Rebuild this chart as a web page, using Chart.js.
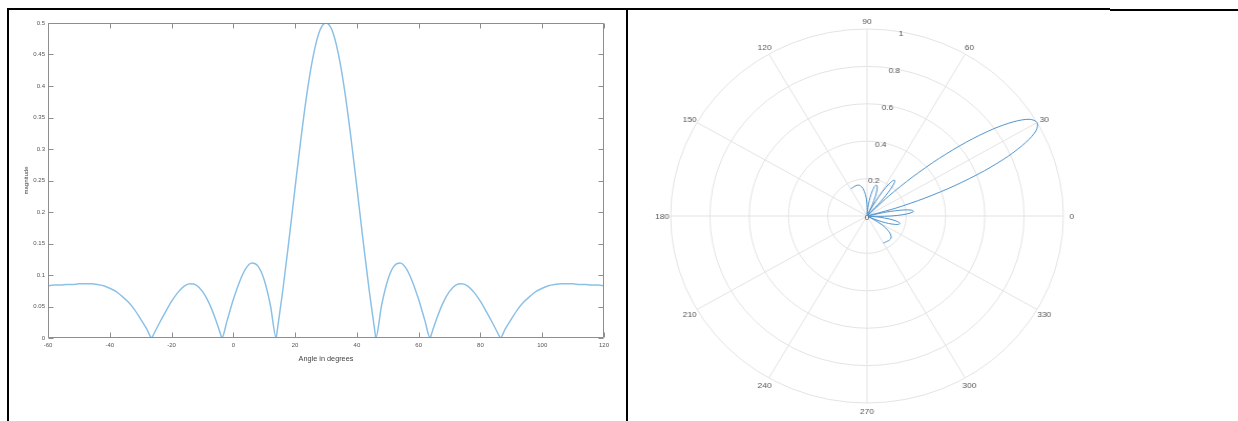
<!DOCTYPE html>
<html>
<head>
<meta charset="utf-8">
<script src="https://cdn.jsdelivr.net/npm/chart.js@4.4.1/dist/chart.umd.min.js"></script>
<style>
  html, body { margin: 0; padding: 0; background: #fff; width: 1238px; height: 421px; overflow: hidden; position: relative; }
  .rule { position: absolute; background: #000; }
  #cartWrap { position: absolute; left: 9px; top: 10px; width: 616px; height: 411px; }
  #polarWrap { position: absolute; left: 628px; top: 9px; width: 478px; height: 412px; transform: scaleX(1.05); transform-origin: 239px 50%; }
  canvas { display: block; }
</style>
</head>
<body>
<div class="rule" style="left:7px;top:8px;width:1103px;height:2px"></div>
<div class="rule" style="left:1110px;top:9px;width:128px;height:2px"></div>
<div class="rule" style="left:7px;top:8px;width:2px;height:413px"></div>
<div class="rule" style="left:626px;top:8px;width:2px;height:413px"></div>

<div id="cartWrap"><canvas id="cart" width="616" height="411"></canvas></div>
<div id="polarWrap"><canvas id="polar" width="478" height="412"></canvas></div>

<script>
// Array factor magnitude versus steering angle (degrees)
const angleDeg = [
  -60, -58, -56, -54, -52, -50, -48, -46, -44, -42, -40, -38, -36, -34, -32, -30, -28, -26.4, -26,
  -24, -22, -20, -18, -16, -14, -12, -10, -8, -6, -4, -3.75, -2,
  0, 2, 4, 6, 8, 10, 12, 13.9, 14, 16, 18, 20, 22, 24, 26, 28,
  30, 32, 34, 36, 38, 40, 42, 44, 46, 46.1, 48, 50, 52, 54, 56, 58,
  60, 62, 63.75, 64, 66, 68, 70, 72, 74, 76, 78, 80, 82, 84, 86, 86.4, 88,
  90, 92, 94, 96, 98, 100, 102, 104, 106, 108, 110, 112, 114, 116, 118, 120
];
const magnitude = [
  0.083, 0.084, 0.084, 0.085, 0.085, 0.086, 0.086, 0.086, 0.085, 0.083, 0.079, 0.074, 0.066, 0.057, 0.045, 0.030, 0.014, 0, 0.004,
  0.023, 0.041, 0.058, 0.072, 0.082, 0.086, 0.084, 0.074, 0.057, 0.033, 0.004, 0, 0.028,
  0.061, 0.089, 0.110, 0.119, 0.114, 0.092, 0.052, 0, 0.004, 0.075, 0.155, 0.239, 0.321, 0.394, 0.451, 0.488,
  0.500, 0.488, 0.451, 0.394, 0.321, 0.239, 0.155, 0.075, 0.004, 0, 0.052, 0.092, 0.114, 0.119, 0.110, 0.089,
  0.061, 0.028, 0, 0.004, 0.033, 0.057, 0.074, 0.084, 0.086, 0.082, 0.072, 0.058, 0.041, 0.023, 0.004, 0, 0.014,
  0.030, 0.045, 0.057, 0.066, 0.074, 0.079, 0.083, 0.085, 0.086, 0.086, 0.086, 0.085, 0.085, 0.084, 0.084, 0.083
];

const xTickValues = [-60, -40, -20, 0, 20, 40, 60, 80, 100, 120];
const xTickLabels = ['-60', '-40', '-20', '0', '20', '40', '60', '80', '100', '120'];
const yTickValues = [0, 0.05, 0.1, 0.15, 0.2, 0.25, 0.3, 0.35, 0.4, 0.45, 0.5];
const yTickLabels = ['0', '0.05', '0.1', '0.15', '0.2', '0.25', '0.3', '0.35', '0.4', '0.45', '0.5'];

const polarAngleTicks = [0, 30, 60, 90, 120, 150, 180, 210, 240, 270, 300, 330];
const polarAngleLabels = ['0', '30', '60', '90', '120', '150', '180', '210', '240', '270', '300', '330'];
const radialTickValues = [0, 0.2, 0.4, 0.6, 0.8, 1];
const radialTickLabels = ['0', '0.2', '0.4', '0.6', '0.8', '1'];
const radialLabelAngle = 80;

const FONT = '"Liberation Sans", Arial, Helvetica, sans-serif';
Chart.defaults.font.family = FONT;
Chart.defaults.animation = false;

// Box with inward tick marks on all four sides
const boxTicks = {
  id: 'boxTicks',
  afterDatasetsDraw(chart) {
    const { ctx, chartArea: a, scales: { x, y } } = chart;
    const L = Math.round(a.left) + 0.5, R = Math.round(a.right) - 0.5;
    const T = Math.round(a.top) + 0.5, B = Math.round(a.bottom) - 0.5;
    const len = 5;
    ctx.save();
    ctx.strokeStyle = '#8e8e8e';
    ctx.lineWidth = 1;
    ctx.beginPath();
    ctx.rect(L, T, R - L, B - T);
    x.ticks.forEach(t => {
      const px = Math.round(x.getPixelForValue(t.value)) + 0.5;
      ctx.moveTo(px, B); ctx.lineTo(px, B - len);
      ctx.moveTo(px, T); ctx.lineTo(px, T + len);
    });
    y.ticks.forEach(t => {
      const py = Math.round(y.getPixelForValue(t.value)) + 0.5;
      ctx.moveTo(L, py); ctx.lineTo(L + len, py);
      ctx.moveTo(R, py); ctx.lineTo(R - len, py);
    });
    ctx.stroke();
    ctx.restore();
  }
};

new Chart(document.getElementById('cart'), {
  type: 'line',
  data: {
    datasets: [{
      data: angleDeg.map((a, i) => ({ x: a, y: magnitude[i] })),
      borderColor: '#8cc1e7',
      borderWidth: 1.5,
      pointRadius: 0,
      fill: false,
      cubicInterpolationMode: 'monotone'
    }]
  },
  options: {
    responsive: false,
    devicePixelRatio: 1,
    layout: { padding: { left: 0, right: 21, top: 13, bottom: 0 } },
    plugins: { legend: { display: false }, tooltip: { enabled: false } },
    scales: {
      x: {
        type: 'linear', min: -60, max: 120,
        afterBuildTicks: s => { s.ticks = xTickValues.map(v => ({ value: v })); },
        afterFit: s => { s.height = 83; },
        grid: { display: false, drawTicks: false },
        border: { display: false },
        ticks: {
          padding: 4, color: '#555', font: { size: 6 },
          callback: (v, i) => xTickLabels[i]
        },
        title: { display: true, text: 'Angle in degrees', color: '#444', font: { size: 7.3 }, padding: { top: 0, bottom: 57.6 } }
      },
      y: {
        type: 'linear', min: 0, max: 0.5,
        afterBuildTicks: s => { s.ticks = yTickValues.map(v => ({ value: v })); },
        afterFit: s => { s.width = 39; },
        grid: { display: false, drawTicks: false },
        border: { display: false },
        ticks: {
          padding: 3, color: '#555', font: { size: 6 },
          callback: (v, i) => yTickLabels[i]
        },
        title: { display: true, text: 'magnitude', color: '#444', font: { size: 6 }, padding: { top: 13.4, bottom: 0 } }
      }
    }
  },
  plugins: [boxTicks]
});

// Polar pattern: 2-degree spokes, index 0 at 120 deg, angles run counter-clockwise
const peak = Math.max(...magnitude);
const polarLabels = [];
const polarR = [];
for (let i = 0; i < 180; i++) {
  const a = 120 - 2 * i;
  polarLabels.push(String(((a % 360) + 360) % 360));
  const k = angleDeg.indexOf(a);
  polarR.push(k >= 0 ? magnitude[k] / peak : null);
}
const spokeIndex = a => ((((120 - a) / 2) % 180) + 180) % 180;

const polarText = {
  id: 'polarText',
  afterDraw(chart) {
    const s = chart.scales.r;
    const ctx = chart.ctx;
    ctx.save();
    ctx.font = '8px ' + FONT;
    ctx.fillStyle = '#555';
    ctx.textAlign = 'center';
    ctx.textBaseline = 'middle';
    polarAngleTicks.forEach((a, k) => {
      const p = s.getPointPosition(spokeIndex(a), s.drawingArea + 8);
      ctx.fillText(polarAngleLabels[k], p.x, p.y + 1);
    });
    const ri = spokeIndex(radialLabelAngle);
    radialTickValues.forEach((v, k) => {
      const p = s.getPointPosition(ri, s.getDistanceFromCenterForValue(v));
      ctx.fillText(radialTickLabels[k], p.x, p.y + 2);
    });
    ctx.restore();
  }
};

new Chart(document.getElementById('polar'), {
  type: 'radar',
  data: {
    labels: polarLabels,
    datasets: [{
      data: polarR,
      borderColor: '#4f92cb',
      borderWidth: 1,
      pointRadius: 0,
      fill: false,
      spanGaps: false,
      tension: 0.3
    }]
  },
  options: {
    responsive: false,
    devicePixelRatio: 1,
    layout: { padding: { left: 52, right: 52, top: 20, bottom: 18 } },
    plugins: { legend: { display: false }, tooltip: { enabled: false } },
    scales: {
      r: {
        min: 0, max: 1, startAngle: 330,
        ticks: { display: false, stepSize: 0.2 },
        grid: { circular: true, color: '#e3e3e3', lineWidth: 1 },
        angleLines: {
          display: true,
          color: '#e3e3e3',
          lineWidth: ctx => (ctx.index % 15 === 0 ? 1 : 0)
        },
        pointLabels: { display: false }
      }
    }
  },
  plugins: [polarText]
});
</script>
</body>
</html>
